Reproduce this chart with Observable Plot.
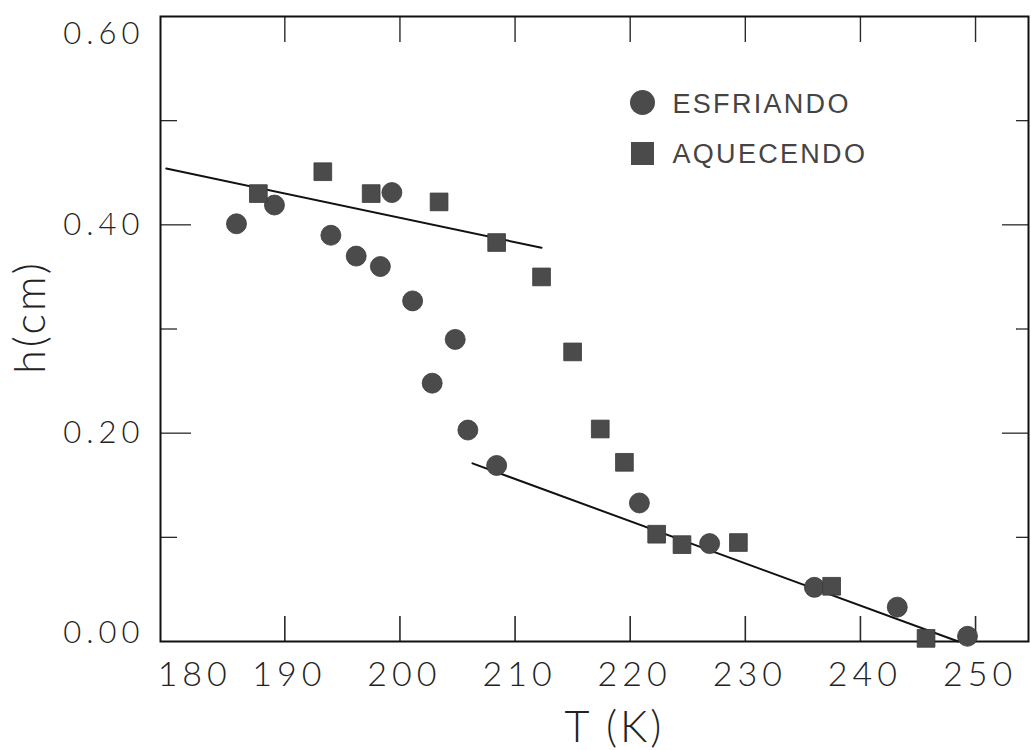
<!DOCTYPE html>
<html>
<head>
<meta charset="utf-8">
<script src="https://cdn.jsdelivr.net/npm/d3@7"></script>
<script src="https://cdn.jsdelivr.net/npm/@observablehq/plot@0.6"></script>
<style>
  html, body { margin: 0; padding: 0; background: #fff; }
  #chart svg { display: block; }
  #chart g[aria-label="x-axis tick label"] text { letter-spacing: 5px; }
  #chart g[aria-label="y-axis tick label"] text { letter-spacing: 5px; }
  #chart g[aria-label="text"] text { letter-spacing: 3px; }
  #chart g[aria-label="text"][font-family*="Liberation"] text { letter-spacing: 2.3px; }
</style>
</head>
<body>
<div id="chart"></div>
<script>
// Series names
const seriesNames = ["ESFRIANDO", "AQUECENDO"];

// ESFRIANDO (cooling) — circles
const coolT = [185.8, 189.1, 194.0, 196.2, 198.3, 199.3, 201.1, 202.8, 204.8, 205.9, 208.4, 220.8, 226.9, 236.0, 243.2, 249.3];
const coolH = [0.401, 0.419, 0.390, 0.370, 0.360, 0.431, 0.327, 0.248, 0.290, 0.203, 0.169, 0.133, 0.094, 0.052, 0.033, 0.005];

// AQUECENDO (heating) — squares
const heatT = [187.7, 193.3, 197.5, 203.4, 208.4, 212.3, 215.0, 217.4, 219.5, 222.3, 224.5, 229.4, 237.5, 245.7];
const heatH = [0.430, 0.451, 0.430, 0.422, 0.383, 0.350, 0.278, 0.204, 0.172, 0.103, 0.093, 0.095, 0.053, 0.003];

// Fitted straight lines (end points)
const fit1T = [179.7, 212.3];
const fit1H = [0.454, 0.378];
const fit2T = [206.3, 248.5];
const fit2H = [0.171, 0.000];

// Tick values
const xTicks = [190, 200, 210, 220, 230, 240, 250];
const xFirstTick = [180];
const yMajor = [0.2, 0.4];
const yMinor = [0.1, 0.3, 0.5];
const yTop = [0.6];
const yBottom = [0];

const xLabel = "T (K)";
const yLabel = "h(cm)";

const cool = coolT.map((t, i) => ({T: t, h: coolH[i]}));
const heat = heatT.map((t, i) => ({T: t, h: heatH[i]}));
const fit1 = fit1T.map((t, i) => ({T: t, h: fit1H[i]}));
const fit2 = fit2T.map((t, i) => ({T: t, h: fit2H[i]}));

const W = 1031, H = 750;
const mL = 160, mR = 3, mT = 16, mB = 109;
const fw = W - mL - mR, fh = H - mT - mB;

const ink = "#222";
const markFill = "#4b4b4b";
const tickInk = "#2a2a2a";
const fontTick = "Lato, 'Open Sans', sans-serif";

const chart = Plot.plot({
  width: W,
  height: H,
  marginLeft: mL,
  marginRight: mR,
  marginTop: mT,
  marginBottom: mB,
  style: {fontFamily: fontTick, background: "#fff", color: ink},
  x: {domain: [179.2, 254.6], axis: null},
  y: {domain: [0, 0.6], axis: null},
  marks: [
    // inward ticks drawn as insets of full-span ticks
    Plot.tickX(xTicks, {x: d => d, insetTop: fh - 25, stroke: tickInk, strokeWidth: 1.6}),
    Plot.tickX(xTicks, {x: d => d, insetBottom: fh - 26, stroke: tickInk, strokeWidth: 1.4}),
    Plot.tickY(yMajor, {y: d => d, insetRight: fw - 31, stroke: tickInk, strokeWidth: 1.3}),
    Plot.tickY(yMinor, {y: d => d, insetRight: fw - 17, stroke: tickInk, strokeWidth: 1.3}),
    Plot.tickY(yMajor, {y: d => d, insetLeft: fw - 26, stroke: tickInk, strokeWidth: 1.3}),
    Plot.tickY(yMinor, {y: d => d, insetLeft: fw - 12, stroke: tickInk, strokeWidth: 1.3}),
    // tick labels
    Plot.axisX({anchor: "bottom", ticks: xTicks, tickSize: 0, tickPadding: 20, dx: 4.5, fontSize: 34, fontWeight: 300, fill: ink, tickFormat: d => String(d), label: null}),
    Plot.axisX({anchor: "bottom", ticks: xFirstTick, tickSize: 0, tickPadding: 20, dx: 25, fontSize: 34, fontWeight: 300, fill: ink, tickFormat: d => String(d), label: null}),
    Plot.axisY({anchor: "left", ticks: yMajor, tickSize: 0, tickPadding: 16, fontSize: 31, fontWeight: 300, fill: ink, tickFormat: d => d.toFixed(2), label: null}),
    Plot.axisY({anchor: "left", ticks: yTop, tickSize: 0, tickPadding: 16, dy: 18, fontSize: 31, fontWeight: 300, fill: ink, tickFormat: d => d.toFixed(2), label: null}),
    Plot.axisY({anchor: "left", ticks: yBottom, tickSize: 0, tickPadding: 16, dy: -8, fontSize: 31, fontWeight: 300, fill: ink, tickFormat: d => d.toFixed(2), label: null}),
    // axis titles
    Plot.text([xLabel], {frameAnchor: "bottom", textAnchor: "middle", dy: 100, dx: 20, fontSize: 43, fontWeight: 300, fill: ink}),
    Plot.text([yLabel], {frameAnchor: "left", textAnchor: "middle", lineAnchor: "middle", rotate: -90, dx: -129, dy: -12, fontSize: 43, fontWeight: 300, fill: ink}),
    // frame
    Plot.frame({stroke: "#111", strokeWidth: 2}),
    // fitted lines
    Plot.line(fit1, {x: "T", y: "h", stroke: "#111", strokeWidth: 2}),
    Plot.line(fit2, {x: "T", y: "h", stroke: "#111", strokeWidth: 2}),
    // data
    Plot.dot(cool, {x: "T", y: "h", r: 10, symbol: "circle", fill: markFill, stroke: "#3a3a3a", strokeWidth: 0.8}),
    Plot.dot(heat, {x: "T", y: "h", r: 10, symbol: "square", fill: markFill, stroke: "#3a3a3a", strokeWidth: 0.8}),
    // legend inside plot
    Plot.dot([seriesNames[0]], {frameAnchor: "top-left", dx: 482, dy: 86, r: 12.5, symbol: "circle", fill: markFill}),
    Plot.dot([seriesNames[1]], {frameAnchor: "top-left", dx: 482, dy: 137, r: 13, symbol: "square", fill: markFill}),
    Plot.text([seriesNames[0]], {frameAnchor: "top-left", dx: 512, dy: 88, text: d => d, textAnchor: "start", lineAnchor: "middle", fontSize: 27, fontFamily: "'Liberation Sans', Arial, sans-serif", fill: "#444"}),
    Plot.text([seriesNames[1]], {frameAnchor: "top-left", dx: 512, dy: 138, text: d => d, textAnchor: "start", lineAnchor: "middle", fontSize: 27, fontFamily: "'Liberation Sans', Arial, sans-serif", fill: "#444"})
  ]
});

document.getElementById("chart").appendChild(chart);
</script>
</body>
</html>
